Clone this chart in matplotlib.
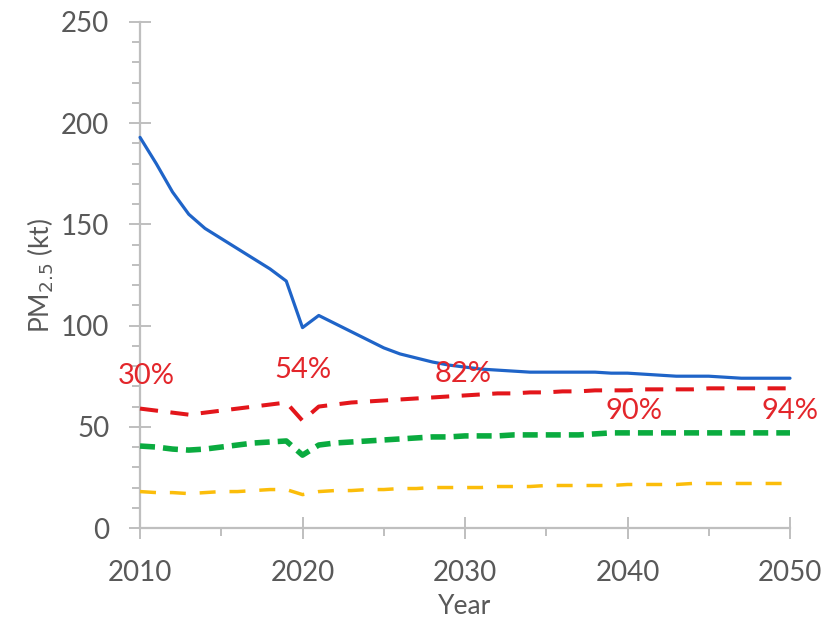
import matplotlib
matplotlib.use("Agg")
import matplotlib.pyplot as plt
from matplotlib.ticker import MultipleLocator

plt.rcParams['font.family'] = ['Lato', 'DejaVu Sans']

years = list(range(2010, 2051))

baseline = [193, 180, 166, 155, 148, 143, 138, 133, 128, 122,
            99, 105, 101, 97, 93, 89, 86, 84, 82, 80.5,
            79.5, 78.5, 78, 77.5, 77, 77, 77, 77, 77, 76.5,
            76.5, 76, 75.5, 75, 75, 75, 74.5, 74, 74, 74, 74]

scenario_red = [59, 58, 57, 56, 57, 58, 59, 60, 61, 62,
                53, 60, 61, 62, 62.5, 63, 63.5, 64, 64.5, 65,
                65.5, 66, 66.5, 66.5, 67, 67, 67.5, 67.5, 68, 68,
                68, 68.5, 68.5, 68.5, 68.5, 69, 69, 69, 69, 69, 69]

scenario_green = [40.5, 40, 39, 38.5, 39, 40, 41, 42, 42.5, 43,
                  36, 41, 42, 42.5, 43, 43.5, 44, 44.5, 45, 45,
                  45.5, 45.5, 45.5, 46, 46, 46, 46, 46, 46.5, 47,
                  47, 47, 47, 47, 47, 47, 47, 47, 47, 47, 47]

scenario_yellow = [18, 17.5, 17.5, 17, 17.5, 18, 18, 18.5, 19, 19,
                   16.5, 18, 18.5, 18.5, 19, 19, 19.5, 19.5, 20, 20,
                   20, 20, 20.5, 20.5, 20.5, 21, 21, 21, 21, 21,
                   21.5, 21.5, 21.5, 21.5, 22, 22, 22, 22, 22, 22, 22]

reduction_labels = ["30%", "54%", "82%", "90%", "94%"]
label_years = [2010.4, 2020.0, 2029.9, 2040.4, 2050.0]
label_values = [75, 78, 76, 58, 58]

red = "#e3262b"
grey_text = "#595959"
grey_axis = "#bfbfbf"

fig = plt.figure(figsize=(8.3, 6.19), dpi=100)
ax = fig.add_axes([0.1687, 0.147, 0.7831, 0.8175])

ax.plot(years, baseline, color="#1f64c8", lw=2.3, solid_capstyle="round",
        solid_joinstyle="round", clip_on=False, zorder=4)
ax.plot(years, scenario_red, color="#e3161b", lw=2.9, dashes=(4.5, 3.1),
        dash_capstyle="butt", clip_on=False, zorder=3)
ax.plot(years, scenario_green, color="#0aab3f", lw=4.0, dashes=(2.7, 1.45),
        dash_capstyle="butt", clip_on=False, zorder=3)
ax.plot(years, scenario_yellow, color="#fbbd0a", lw=2.5, dashes=(4.6, 4.0),
        dash_capstyle="butt", clip_on=False, zorder=3)

for txt, x, y in zip(reduction_labels, label_years, label_values):
    ax.text(x, y, txt, color=red, fontsize=21, ha="center", va="center",
            zorder=5, clip_on=False)

ax.set_xlim(2010, 2050)
ax.set_ylim(0, 250)

ax.xaxis.set_major_locator(MultipleLocator(10))
ax.xaxis.set_minor_locator(MultipleLocator(5))
ax.yaxis.set_major_locator(MultipleLocator(50))
ax.yaxis.set_minor_locator(MultipleLocator(10))

for side in ("top", "right"):
    ax.spines[side].set_visible(False)
for side in ("left", "bottom"):
    ax.spines[side].set_color(grey_axis)
    ax.spines[side].set_linewidth(1.6)

ax.tick_params(axis="both", which="major", direction="inout", length=16,
               width=1.4, color=grey_axis, labelcolor=grey_text, labelsize=20)
ax.tick_params(axis="y", which="minor", direction="out", length=6,
               width=1.4, color=grey_axis)
ax.tick_params(axis="x", which="minor", direction="out", length=6,
               width=1.4, color=grey_axis)
ax.tick_params(axis="y", which="major", pad=14)
ax.tick_params(axis="x", which="major", pad=15)

ax.set_xlabel("Year", fontsize=19, color=grey_text, labelpad=6)
ax.set_ylabel("PM$_{2.5}$ (kt)", fontsize=19, color=grey_text, labelpad=4)

fig.savefig("out.png", dpi=100, facecolor="white")
